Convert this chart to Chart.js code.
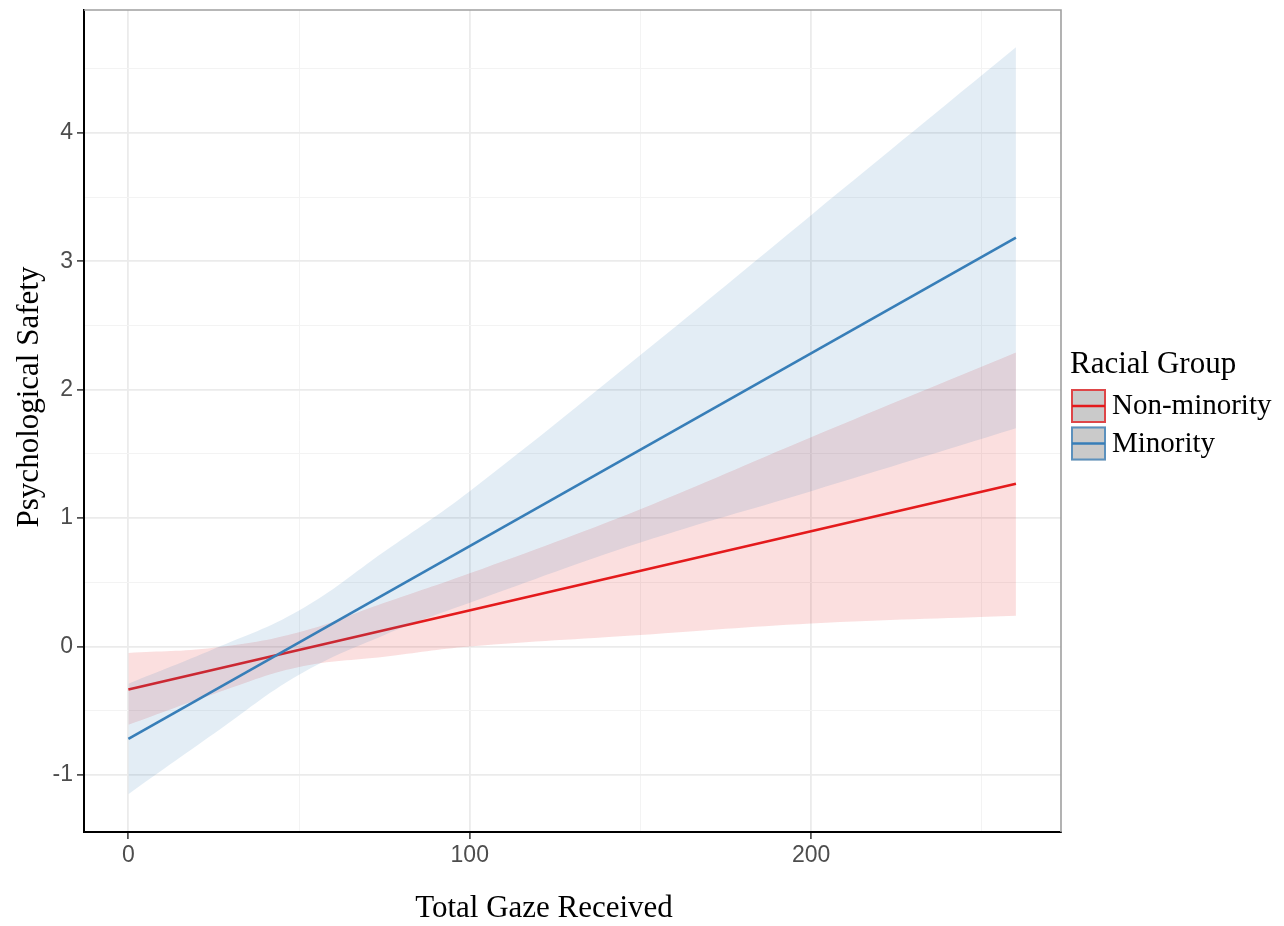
<!DOCTYPE html>
<html>
<head>
<meta charset="utf-8">
<title>Psychological Safety by Total Gaze Received</title>
<script src="https://cdn.jsdelivr.net/npm/chart.js@4.4.1/dist/chart.umd.min.js"></script>
<style>
  html, body { margin: 0; padding: 0; background: #ffffff; }
  #wrap { width: 1284px; height: 926px; position: relative; }
</style>
</head>
<body>
<div id="wrap"><canvas id="gazeChart" width="1284" height="926"></canvas></div>
<script>
// values
const gazeGrid = [0, 25, 50, 75, 100, 150, 200, 260];
const gazeEnds = [0, 260];

const nonMinorityFit = [-0.335, 1.268];
const nonMinorityUpper = [-0.05, -0.01, 0.11, 0.34, 0.57, 1.07, 1.63, 2.29];
const nonMinorityLower = [-0.61, -0.37, -0.16, -0.08, 0.0, 0.09, 0.18, 0.24];

const minorityFit = [-0.72, 3.185];
const minorityUpper = [-0.29, -0.02, 0.28, 0.74, 1.21, 2.27, 3.36, 4.667];
const minorityLower = [-1.15, -0.68, -0.22, 0.09, 0.34, 0.81, 1.21, 1.70];

const xMajorTicks = [0, 100, 200];
const yMajorTicks = [-1, 0, 1, 2, 3, 4];
const groupLabels = ['Non-minority', 'Minority'];

const RED = '#E41A1C';
const BLUE = '#377EB8';

function pts(xs, ys) {
    return xs.map((x, i) => ({ x: x, y: ys[i] }));
}

function isMajor(list, v) {
    return list.some(t => Math.abs(t - v) < 1e-6);
}

Chart.defaults.font.family = '"Liberation Sans", Arial, sans-serif';

// panel border (top / right), axis titles and ggplot-like legend
const decorations = {
    id: 'decorations',
    afterDraw(chart) {
        const ctx = chart.ctx;
        const a = chart.chartArea;
        ctx.save();
        ctx.strokeStyle = '#a0a0a0';
        ctx.lineWidth = 1.6;
        ctx.beginPath();
        ctx.moveTo(a.left, a.top);
        ctx.lineTo(a.right, a.top);
        ctx.lineTo(a.right, a.bottom);
        ctx.stroke();

        ctx.fillStyle = '#000000';
        ctx.font = '31px "Liberation Serif", "Times New Roman", serif';
        ctx.textAlign = 'center';
        ctx.textBaseline = 'alphabetic';
        ctx.fillText('Total Gaze Received', 544, 917);
        ctx.save();
        ctx.translate(38, 397);
        ctx.rotate(-Math.PI / 2);
        ctx.fillText('Psychological Safety', 0, 0);
        ctx.restore();

        ctx.textAlign = 'left';
        ctx.fillText('Racial Group', 1070, 373);
        const colours = [RED, BLUE];
        const edges = ['rgba(228,26,28,0.75)', 'rgba(55,126,184,0.75)'];
        ctx.font = '29px "Liberation Serif", "Times New Roman", serif';
        groupLabels.forEach((label, i) => {
            const top = 389 + i * 37.5;
            ctx.fillStyle = '#cacaca';
            ctx.fillRect(1071, top, 35, 34);
            ctx.strokeStyle = edges[i];
            ctx.lineWidth = 2;
            ctx.strokeRect(1072, top + 1, 33, 32);
            ctx.strokeStyle = colours[i];
            ctx.lineWidth = 2.5;
            ctx.beginPath();
            ctx.moveTo(1072, top + 17);
            ctx.lineTo(1105, top + 17);
            ctx.stroke();
            ctx.fillStyle = '#000000';
            ctx.fillText(label, 1112, top + 25);
        });
        ctx.restore();
    }
};

const gridColour = (list) => (c) => isMajor(list, c.tick.value) ? '#ebebeb' : '#f3f3f3';
const gridWidth = (list) => (c) => isMajor(list, c.tick.value) ? 1.8 : 1;
const tickColour = (list) => (c) => isMajor(list, c.tick.value) ? '#333333' : 'rgba(0,0,0,0)';

function band(label, ys, colour, fill, order) {
    return {
        label: label,
        data: pts(gazeGrid, ys),
        borderWidth: 0,
        borderColor: 'rgba(0,0,0,0)',
        backgroundColor: colour,
        pointRadius: 0,
        tension: 0.4,
        fill: fill,
        order: order
    };
}

new Chart(document.getElementById('gazeChart'), {
    type: 'line',
    data: {
        datasets: [
            {
                label: 'Minority',
                data: pts(gazeEnds, minorityFit),
                borderColor: BLUE,
                borderWidth: 2.6,
                pointRadius: 0,
                fill: false,
                order: 0
            },
            band('Minority upper', minorityUpper, 'rgba(55,126,184,0.14)', '+1', 1),
            band('Minority lower', minorityLower, 'rgba(0,0,0,0)', false, 2),
            {
                label: 'Non-minority',
                data: pts(gazeEnds, nonMinorityFit),
                borderColor: RED,
                borderWidth: 2.6,
                pointRadius: 0,
                fill: false,
                order: 3
            },
            band('Non-minority upper', nonMinorityUpper, 'rgba(228,26,28,0.14)', '+1', 4),
            band('Non-minority lower', nonMinorityLower, 'rgba(0,0,0,0)', false, 5)
        ]
    },
    options: {
        responsive: false,
        animation: false,
        layout: { padding: { top: 10, right: 223, left: 0, bottom: 0 } },
        plugins: {
            legend: { display: false },
            tooltip: { enabled: false }
        },
        scales: {
            x: {
                type: 'linear',
                min: -13,
                max: 273.2,
                afterFit(scale) {
                    scale.height = 94;
                    scale.paddingLeft = 0;
                    scale.paddingRight = 0;
                },
                border: { display: true, color: '#000000', width: 2 },
                grid: {
                    color: gridColour(xMajorTicks),
                    lineWidth: gridWidth(xMajorTicks),
                    tickColor: tickColour(xMajorTicks),
                    tickWidth: 1.5,
                    tickLength: 7
                },
                ticks: {
                    stepSize: 50,
                    includeBounds: false,
                    autoSkip: false,
                    maxRotation: 0,
                    padding: 3,
                    color: '#4d4d4d',
                    font: { size: 23 },
                    callback: (v) => isMajor(xMajorTicks, v) ? String(Math.round(v)) : ''
                }
            },
            y: {
                type: 'linear',
                min: -1.445,
                max: 4.958,
                afterFit(scale) {
                    scale.width = 84;
                    scale.paddingTop = 0;
                    scale.paddingBottom = 0;
                },
                border: { display: true, color: '#000000', width: 2 },
                grid: {
                    color: gridColour(yMajorTicks),
                    lineWidth: gridWidth(yMajorTicks),
                    tickColor: tickColour(yMajorTicks),
                    tickWidth: 1.5,
                    tickLength: 7
                },
                ticks: {
                    stepSize: 0.5,
                    includeBounds: false,
                    autoSkip: false,
                    padding: 4,
                    color: '#4d4d4d',
                    font: { size: 23 },
                    callback: (v) => isMajor(yMajorTicks, v) ? String(Math.round(v)) : ''
                }
            }
        }
    },
    plugins: [decorations]
});
</script>
</body>
</html>
